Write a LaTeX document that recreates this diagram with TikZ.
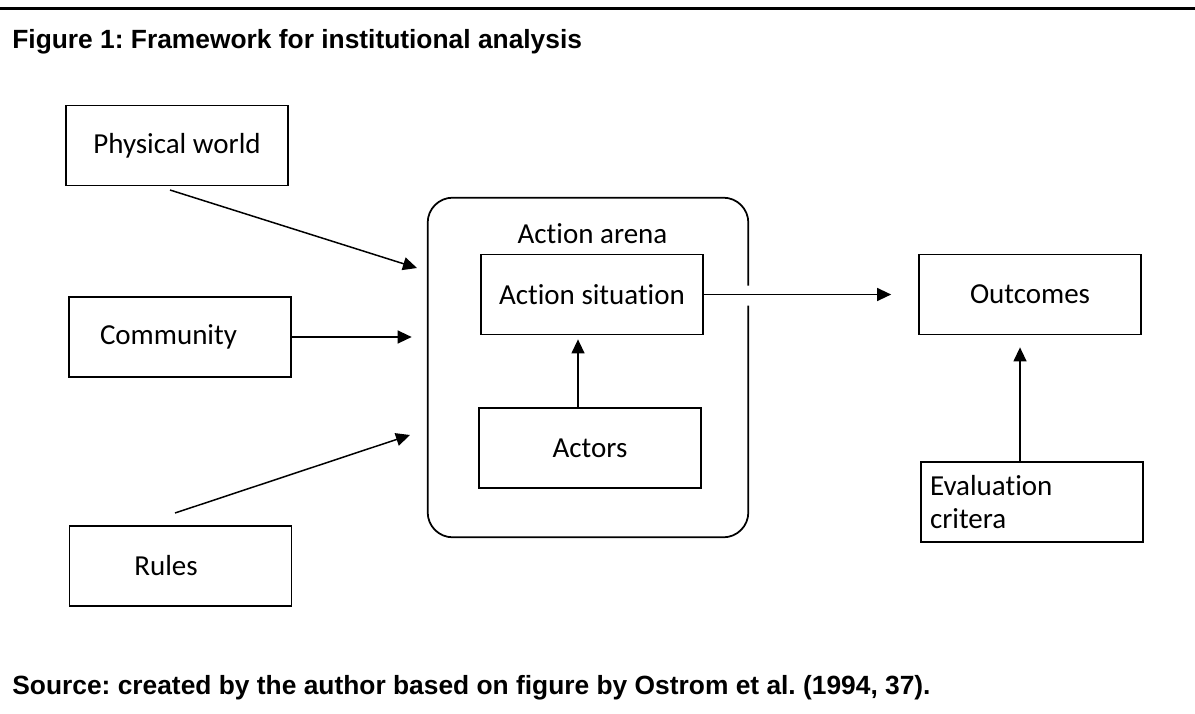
\documentclass[tikz,border=0pt]{standalone}
\usepackage{fontspec}
\setmainfont{Carlito}[Ligatures=NoCommon]
\newfontfamily\headfont{Liberation Sans}
\usetikzlibrary{arrows.meta, calc}
\frenchspacing

\begin{document}
\begin{tikzpicture}[
    x=0.02cm, y=-0.02cm,
    box/.style={rectangle, draw, line width=1pt, minimum width=4.44cm, minimum height=1.6cm, inner sep=0pt, font=\fontsize{16.5}{18.7}\selectfont},
    arenatext/.style={inner sep=0pt, anchor=base, font=\fontsize{16.5}{18.7}\selectfont},
    caption/.style={inner sep=0pt, anchor=base west, font=\headfont\bfseries\fontsize{15}{18}\selectfont},
    arrow/.style={-{Triangle[length=8pt, width=7.4pt]}, line width=0.85pt}
]
    \useasboundingbox (0,0) rectangle (1195,713);
    \draw[line width=1.7pt] (0,8.5) -- (1195,8.5);

    \node[caption] (title) at (12,49) {Figure 1: Framework for institutional analysis};
    \node[caption] (source) at (12,694) {Source: created by the author based on figure by Ostrom et al. (1994, 37).};

    % inputs
    \node[box] (phys) at (177,145.5) {Physical world};
    \node[box] (comm) at (180,337) {\hspace*{-0.46cm}Community};
    \node[box] (rules) at (180.5,566) {\hspace*{-0.58cm}Rules};

    % action arena
    \node[minimum width=6.4cm, minimum height=6.78cm, inner sep=0pt] (arena) at (588,367.5) {};
    \node[arenatext] (arenaname) at (592.5,243) {Action arena};
    \node[box] (sit) at (592,294.5) {Action situation};
    \node[box] (actors) at (590,448) {Actors};
    \draw[line width=1pt, rounded corners=0.5cm] ($(arena.east |- sit.east)+(0,11)$) |- (arena.south west) |- (arena.north east) -- ($(arena.east |- sit.east)+(0,-9)$);

    % results
    \node[box] (outc) at (1030,294.5) {Outcomes};
    \node[box, align=left, text width=4.08cm] (eval) at (1032,502) {Evaluation\\critera};

    \coordinate (physend) at (170,190);
    \coordinate (physin) at (417,268);
    \coordinate (rulesend) at (175,513);
    \coordinate (rulesin) at (410,435);

    \draw[arrow] (physend) -- (physin);
    \draw[arrow, shorten >=0.32cm] (comm.east) -- (comm.east -| arena.west);
    \draw[arrow] (rulesend) -- (rulesin);
    \draw[arrow, shorten >=0.08cm] ($(actors.north)+(-12,0)$) -- ($(sit.south)+(-14,0)$);
    \draw[arrow, shorten >=0.54cm] (sit) -- (outc);
    \draw[arrow, shorten >=0.24cm] ($(eval.north)+(-12,0)$) -- ($(outc.south)+(-10,0)$);
\end{tikzpicture}
\end{document}
